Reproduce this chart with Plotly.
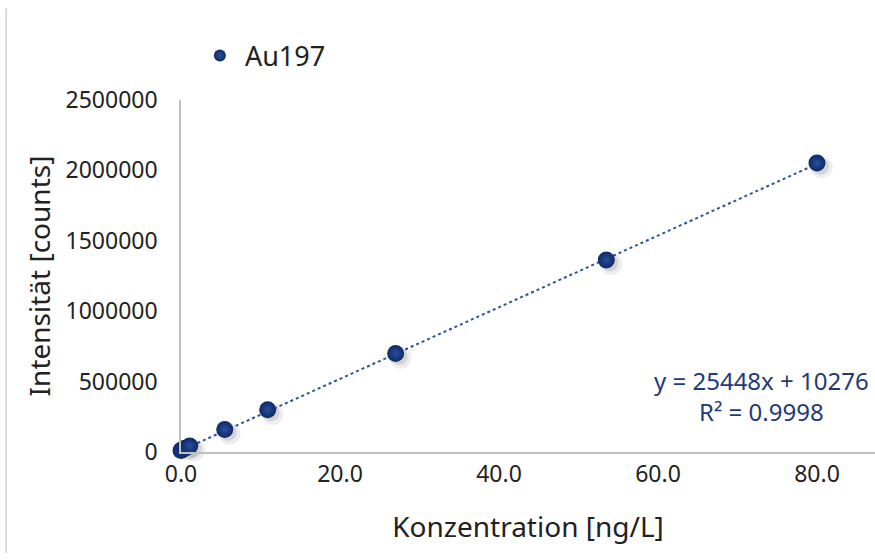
import plotly.graph_objects as go
import numpy as np

# Data
konzentration = [0.0, 0.1, 0.5, 1.1, 5.5, 10.9, 27.0, 53.5, 80.0]
intensitaet = [10000, 14000, 26000, 42000, 160000, 300000, 700000, 1364000, 2052000]
series_name = "Au197"
slope = 25448
intercept = 10276
r2 = 0.9998
x_ticks = [0, 20, 40, 60, 80]
y_ticks = [0, 500000, 1000000, 1500000, 2000000, 2500000]

FONT = "Noto Sans"
NAVY = "#0E2A66"
TXT = "#222222"

fig = go.Figure()

# trendline from the equation
tx = np.array([0.0, max(konzentration)])
fig.add_trace(go.Scatter(
    x=tx, y=slope * tx + intercept, mode="lines",
    line=dict(color="#2F5597", width=2, dash="dot"),
    showlegend=False, hoverinfo="skip", cliponaxis=False))

# soft shadow under the markers
kx = np.array(konzentration)
ky = np.array(intensitaet)
fig.add_trace(go.Scatter(
    x=kx + 0.6, y=ky - 30000, mode="markers",
    marker=dict(size=22, color="rgba(0,0,0,0.07)", line=dict(width=0)),
    showlegend=False, hoverinfo="skip", cliponaxis=False))
fig.add_trace(go.Scatter(
    x=kx + 0.45, y=ky - 22000, mode="markers",
    marker=dict(size=17, color="rgba(0,0,0,0.10)", line=dict(width=0)),
    showlegend=False, hoverinfo="skip", cliponaxis=False))

fig.add_trace(go.Scatter(
    x=konzentration, y=intensitaet, mode="markers", name=series_name,
    marker=dict(size=17, color=NAVY, line=dict(width=0),
                gradient=dict(type="radial", color="#2A4E9A")),
    cliponaxis=False))

fig.update_layout(
    width=875, height=560,
    margin=dict(l=181, r=0, t=100, b=108, autoexpand=False),
    plot_bgcolor="white", paper_bgcolor="white",
    font=dict(family=FONT, size=23, color=TXT),
    showlegend=True,
    legend=dict(x=0.02, y=1.125, xanchor="left", yanchor="middle",
                font=dict(size=27, color=TXT), bgcolor="rgba(0,0,0,0)",
                itemsizing="constant", itemwidth=40),
    xaxis=dict(range=[0, 87.3], tickvals=x_ticks, tickformat=".1f",
               showgrid=False, zeroline=False, showline=True,
               linecolor="#BFBFBF", linewidth=1.5, ticks="",
               ticklabelstandoff=1, automargin=False,
               tickfont=dict(size=23, color=TXT),
               title=dict(text="Konzentration [ng/L]", font=dict(size=28, color=TXT),
                          standoff=29)),
    yaxis=dict(range=[0, 2500000], tickvals=y_ticks, tickformat="d",
               showgrid=False, zeroline=False, showline=True,
               linecolor="#BFBFBF", linewidth=1.5, ticks="",
               ticklabelstandoff=17, automargin=False,
               tickfont=dict(size=23, color=TXT),
               title=dict(text="Intensität [counts]", font=dict(size=28, color=TXT),
                          standoff=7)),
    annotations=[dict(
        xref="paper", yref="paper", x=0.836, y=0.159,
        text=f"y = {slope}x + {intercept}<br>R² = {r2}",
        showarrow=False, align="center", xanchor="center", yanchor="middle",
        font=dict(size=24, color="#1F3A78", family=FONT))],
    shapes=[dict(type="line", xref="paper", yref="paper",
                 x0=-0.252, x1=-0.252, y0=-0.287, y1=1.261,
                 line=dict(color="#D0D0D0", width=1.5))],
)

fig.write_html("out.html",
               config={"displayModeBar": False},
               post_script="document.body.style.margin='0';document.body.style.overflow='hidden';")
